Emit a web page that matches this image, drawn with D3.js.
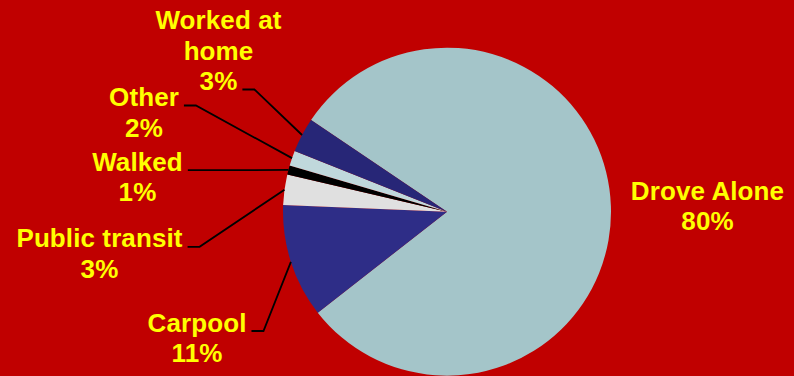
<!DOCTYPE html>
<html>
<head>
<meta charset="utf-8">
<script src="https://cdn.jsdelivr.net/npm/d3@7"></script>
<style>
  html, body { margin: 0; padding: 0; background: #c00000; }
  svg { display: block; }
</style>
</head>
<body>
<svg id="chart"></svg>
<script>
// Commuting mode shares (percent)
const categories = ['Drove Alone', 'Carpool', 'Public transit', 'Walked', 'Other', 'Worked at home'];
const shares = [80.0, 11.2, 3.0, 0.9, 1.5, 3.4];
const labelText = [['Drove Alone'], ['Carpool'], ['Public transit'], ['Walked'], ['Other'], ['Worked at', 'home']];
const sliceColors = ['#a4c5c9', '#2e2d87', '#e0e0e0', '#000000', '#c0d8dc', '#272677'];

const width = 794;
const height = 376;
const cx = 447, cy = 211.7, radius = 164;

// where each data label sits (centre x, first baseline y) and which line the leader attaches to
const labelPos = [
  { x: 707.5, y: 199.5, attach: null },
  { x: 197, y: 331.5, attach: 0 },
  { x: 99.5, y: 247.3, attach: 0 },
  { x: 137.5, y: 170.7, attach: 0 },
  { x: 144, y: 106, attach: 0 },
  { x: 218.5, y: 29, attach: 2 }
];
const lineHeight = 30.5;

const svg = d3.select('#chart')
  .attr('width', width)
  .attr('height', height);

svg.append('rect')
  .attr('width', width)
  .attr('height', height)
  .attr('fill', '#c00000');

const data = categories.map((c, i) => ({ name: c, value: shares[i], i }));

const startAngle = -56 * Math.PI / 180;
const pie = d3.pie()
  .sort(null)
  .value(d => d.value)
  .startAngle(startAngle)
  .endAngle(startAngle + 2 * Math.PI);

const arcs = pie(data);

const arc = d3.arc().innerRadius(0).outerRadius(radius);

const g = svg.append('g').attr('transform', `translate(${cx},${cy})`);

g.selectAll('path')
  .data(arcs)
  .enter()
  .append('path')
  .attr('d', arc)
  .attr('fill', d => sliceColors[d.data.i]);

// labels
const labels = svg.append('g')
  .attr('font-family', '"Liberation Sans", Arial, sans-serif')
  .attr('font-weight', 'bold')
  .attr('font-size', 26)
  .attr('letter-spacing', '0.1px')
  .attr('fill', '#ffff00')
  .attr('text-anchor', 'middle');

arcs.forEach(a => {
  const i = a.data.i;
  const pos = labelPos[i];
  const lines = labelText[i].concat([Math.round(a.data.value) + '%']);
  const texts = lines.map((t, k) => labels.append('text')
    .attr('x', pos.x)
    .attr('y', pos.y + k * lineHeight)
    .text(t));

  if (pos.attach === null) return;

  // leader line from label to the slice edge at its mid angle
  const mid = (a.startAngle + a.endAngle) / 2;
  const ex = cx + radius * Math.sin(mid);
  const ey = cy - radius * Math.cos(mid);
  const w = texts[pos.attach].node().getComputedTextLength();
  const sx = pos.x + w / 2 + 5;
  const sy = pos.y + pos.attach * lineHeight - 0.5;
  const kx = Math.abs(ey - sy) < 3 ? sx : sx + 12;

  svg.append('polyline')
    .attr('points', [[sx, sy], [kx, sy], [ex, ey]].map(p => p.join(',')).join(' '))
    .attr('fill', 'none')
    .attr('stroke', '#000')
    .attr('stroke-width', 1.8);
});
</script>
</body>
</html>
